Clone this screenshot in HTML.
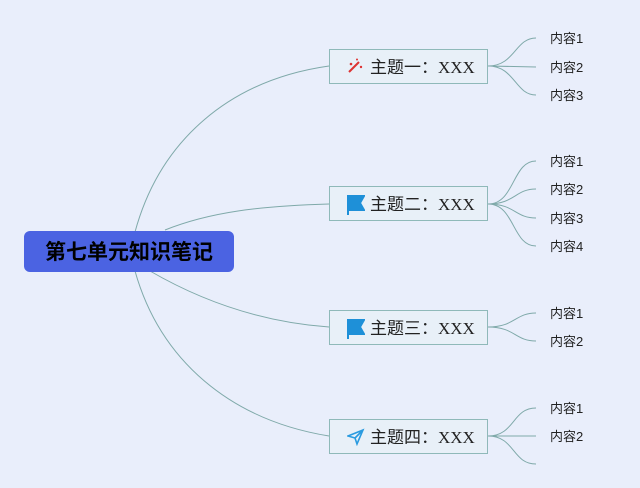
<!DOCTYPE html>
<html><head><meta charset="utf-8"><style>
body{margin:0;width:640px;height:488px;background:#e9eefb;position:relative;overflow:hidden;font-family:"Liberation Serif","Noto Sans CJK SC",serif}
.root{position:absolute;left:24px;top:231px;width:210px;height:41px;background:#4b63e2;border-radius:6px;color:#000;font:bold 21px "Liberation Sans","Noto Sans CJK SC",sans-serif;text-align:center;line-height:43px}
.t{position:absolute;left:329px;width:159px;height:35px;border:1px solid #8fb9b9;background:#e8f0f8;font-size:17px;line-height:35px;color:#222;box-sizing:border-box;padding-left:40px}
.t svg{position:absolute;left:17px;top:8px}
.l{position:absolute;left:550px;font-size:13px;color:#222;line-height:14px;font-family:"Liberation Sans","Noto Sans CJK SC",sans-serif}
</style></head><body>
<svg width="640" height="488" style="position:absolute;left:0;top:0" fill="none" stroke="#7fa9a9" stroke-width="1">
<path d="M135 232 C160 140 230 80 329 66"/>
<path d="M165 230 C210 212 260 206 329 204"/>
<path d="M150 271 C200 300 260 322 329 327"/>
<path d="M135 271 C160 360 230 420 329 436"/>
<path d="M488 66 C515 66 515 38 536 38 M488 66 L536 67 M488 66 C515 66 515 95 536 95"/>
<path d="M488 204 C515 204 512 161 536 161 M488 204 C515 204 515 189 536 189 M488 204 C515 204 515 218 536 218 M488 204 C515 204 512 246 536 246"/>
<path d="M488 327 C515 327 515 313 536 313 M488 327 C515 327 515 341 536 341"/>
<path d="M488 436 C515 436 512 408 536 408 M488 436 L536 436 M488 436 C515 436 512 464 536 464"/>
</svg>
<div class="root">第七单元知识笔记</div>
<div class="t" style="top:49px"><svg width="16" height="16"><path d="M2 14 L12 4" stroke="#d33" stroke-width="2"/><circle cx="4" cy="6" r="1.3" fill="#d33"/><circle cx="10" cy="1.5" r="1" fill="#d33"/><circle cx="14" cy="9" r="1.2" fill="#d33"/></svg>主题一：XXX</div>
<div class="t" style="top:186px"><svg width="18" height="20"><path d="M1 0 V20 M1 1 H17 L13 8 L17 15 H1" fill="#1e90d8" stroke="#1e90d8" stroke-width="2"/></svg>主题二：XXX</div>
<div class="t" style="top:310px"><svg width="18" height="20"><path d="M1 0 V20 M1 1 H17 L13 8 L17 15 H1" fill="#1e90d8" stroke="#1e90d8" stroke-width="2"/></svg>主题三：XXX</div>
<div class="t" style="top:419px"><svg width="18" height="18"><path d="M1 8 L16 2 L10 16 L8 10 Z M8 10 L16 2" fill="none" stroke="#2a9be0" stroke-width="1.6"/></svg>主题四：XXX</div>
<div class="l" style="top:32px">内容1</div><div class="l" style="top:61px">内容2</div><div class="l" style="top:89px">内容3</div>
<div class="l" style="top:155px">内容1</div><div class="l" style="top:183px">内容2</div><div class="l" style="top:212px">内容3</div><div class="l" style="top:240px">内容4</div>
<div class="l" style="top:307px">内容1</div><div class="l" style="top:335px">内容2</div>
<div class="l" style="top:402px">内容1</div><div class="l" style="top:430px">内容2</div>
</body></html>
